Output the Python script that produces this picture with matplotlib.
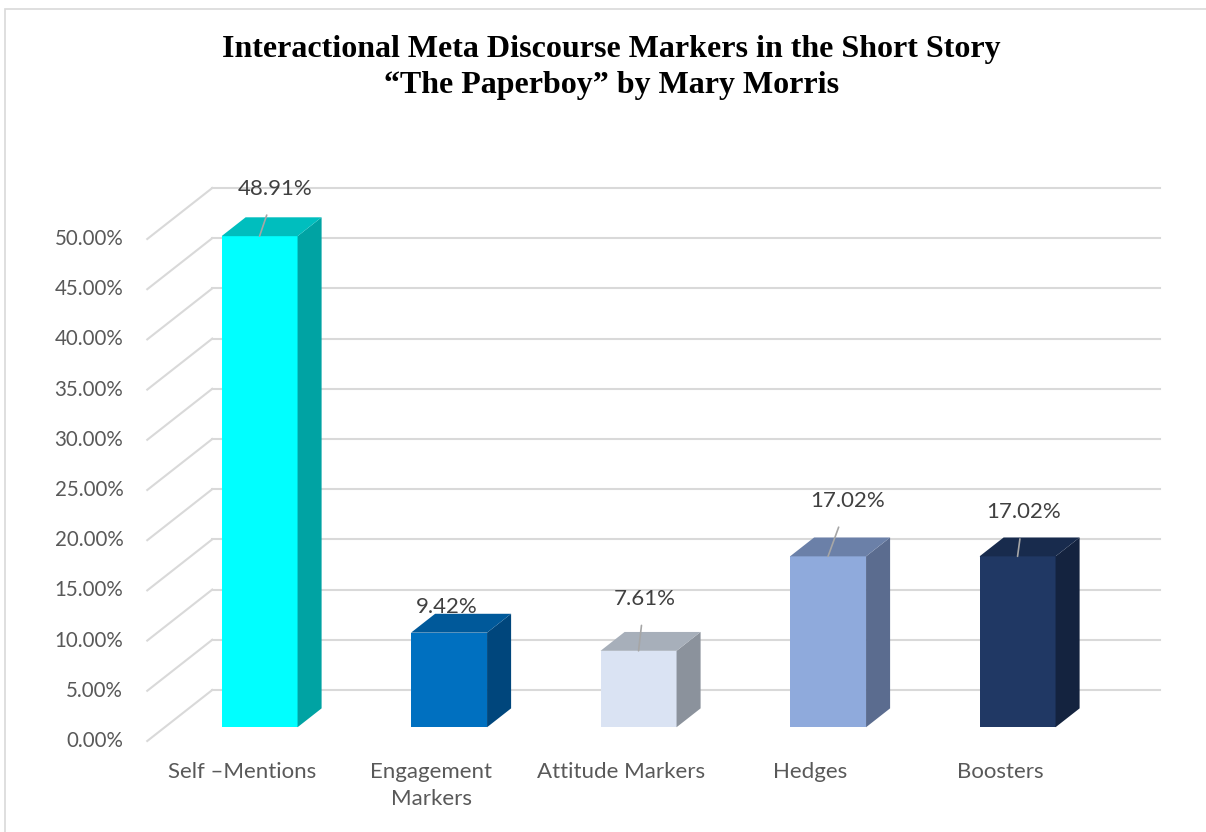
import numpy as np
import matplotlib
matplotlib.use("Agg")
import matplotlib.pyplot as plt
from matplotlib.patches import Polygon, Rectangle
from matplotlib.transforms import offset_copy

categories = ["Self \u2013Mentions", "Engagement\nMarkers", "Attitude Markers", "Hedges", "Boosters"]
values = [48.91, 9.42, 7.61, 17.02, 17.02]
value_labels = ["48.91%", "9.42%", "7.61%", "17.02%", "17.02%"]
ticks = [0, 5, 10, 15, 20, 25, 30, 35, 40, 45, 50]
tick_labels = ["%.2f%%" % t for t in ticks]

# front / top / side shades per bar
front_colors = ["#00FFFF", "#0070C0", "#DAE3F3", "#8FAADC", "#203864"]
top_colors = ["#00BEBE", "#00599A", "#A7AFBA", "#6B80A8", "#182B4D"]
side_colors = ["#00A3A3", "#00467C", "#8B929C", "#5B6C8F", "#14233F"]

# label offsets (pixels) from the top-front centre of each bar
label_dx = [16, -2, 6, 20, 6]
label_dy = [47, 26, 52, 55, 44]
leader = [True, False, True, True, True]

W, H = 1206, 832
fig = plt.figure(figsize=(W / 100, H / 100), dpi=100)
ax = fig.add_axes([0, 0, 1, 1])
# one category = 189.5 px, 1% = 10.04 px, floor front edge at y=741 px
px_x, px_y = 189.5, 10.04
ax.set_xlim(-242 / px_x, (W - 242) / px_x)
ax.set_ylim(-(H - 741) / px_y, 741 / px_y)
ax.axis("off")

# chart frame
fig.patches.append(Rectangle((5 / W, -0.01), (W - 3) / W, 1 - 9 / H + 0.01,
                             transform=fig.transFigure, fill=False,
                             ec="#D9D9D9", lw=1.2))

# depth of the 3d box
dxf, dyf = 65 / px_x, 51 / px_y
x0, x1 = -0.5, 4.5
grid_c = "#D9D9D9"
for v in ticks:
    ax.plot([x0 + dxf, x1 + dxf], [v + dyf, v + dyf], color=grid_c, lw=1.5, zorder=1)
    ax.plot([x0, x0 + dxf], [v, v + dyf], color=grid_c, lw=1.5, zorder=1)

tick_tr = offset_copy(ax.transData, fig=fig, x=-24, y=0, units="dots")
for v, lab in zip(ticks, tick_labels):
    ax.text(x0, v, lab, transform=tick_tr, ha="right", va="center",
            fontsize=14.8, color="#595959", family="Lato")

# bars sit between these depth fractions
f0, f1 = 0.27, 0.64
w = 76 / px_x
ddx, ddy = (f1 - f0) * dxf, (f1 - f0) * dyf
for i, v in enumerate(values):
    xl = i - w / 2 + f0 * dxf
    xr = xl + w
    yb = f0 * dyf
    yt = yb + v
    ax.add_patch(Polygon([(xl, yb), (xr, yb), (xr, yt), (xl, yt)],
                         closed=True, fc=front_colors[i], ec="none", zorder=3))
    ax.add_patch(Polygon([(xr, yb), (xr + ddx, yb + ddy), (xr + ddx, yt + ddy), (xr, yt)],
                         closed=True, fc=side_colors[i], ec="none", zorder=3))
    ax.add_patch(Polygon([(xl, yt), (xr, yt), (xr + ddx, yt + ddy), (xl + ddx, yt + ddy)],
                         closed=True, fc=top_colors[i], ec="none", zorder=3))

    cx = (xl + xr) / 2
    props = dict(arrowstyle="-", color="#A6A6A6", lw=1.2, shrinkA=10, shrinkB=0) if leader[i] else None
    ax.annotate(value_labels[i], xy=(cx, yt), xytext=(label_dx[i] * 0.72, label_dy[i] * 0.72),
                textcoords="offset points", ha="center", va="center",
                fontsize=16, color="#404040", family="Lato",
                arrowprops=props, zorder=5)

cat_tr = offset_copy(ax.transData, fig=fig, x=0, y=-21, units="dots")
for i, lab in enumerate(categories):
    ax.text(i, 0, lab, transform=cat_tr, ha="center", va="top",
            fontsize=16, color="#595959", family="Lato", linespacing=1.45)

fig.text(0.507, 1 - 50 / H, "Interactional Meta Discourse Markers in the Short Story",
         ha="center", va="center", fontsize=23, fontweight="bold",
         family="Liberation Serif", color="black")
fig.text(0.507, 1 - 86 / H, "\u201cThe Paperboy\u201d by Mary Morris",
         ha="center", va="center", fontsize=23, fontweight="bold",
         family="Liberation Serif", color="black")

fig.savefig("out.png", dpi=100)
